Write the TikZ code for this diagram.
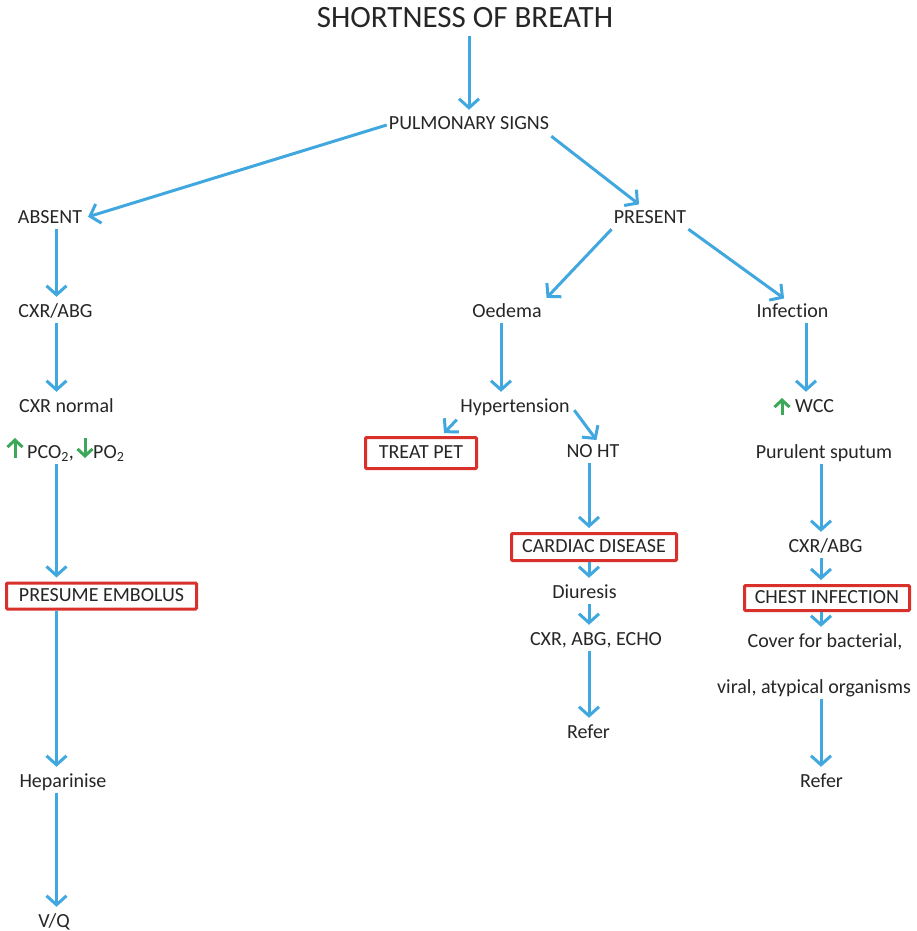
\documentclass[tikz,border=0pt]{standalone}
\usepackage{fontspec}
\setmainfont{Carlito}[Ligatures=NoCommon]
\usepackage{xcolor}
\usepackage{tikz}
\usetikzlibrary{arrows.meta,positioning}
\definecolor{flowblue}{HTML}{41A8DF}
\definecolor{gasgreen}{HTML}{3DA85A}
\definecolor{boxred}{HTML}{D8312C}
\definecolor{inkgray}{HTML}{262626}
\tikzset{
  entry/.style={inner sep=2pt,text height=14pt,text depth=4pt,text=inkgray,
    font=\fontsize{20}{24}\selectfont},
  heading/.style={entry,font=\fontsize{31}{37}\selectfont,text height=21pt,text depth=6pt},
  decision/.style={entry,draw=boxred,line width=3pt,rounded corners=1pt,inner sep=0pt},
  flow/.style={
    every edge/.style={draw=flowblue,line width=3pt,
      -{Straight Barb[length=9pt,width=20pt]},shorten >=4pt}
  },
  gas/.style={draw=gasgreen,line width=3pt,-{Straight Barb[length=7pt,width=15pt]}}
}
\begin{document}
\begin{tikzpicture}[x=1pt,y=-1pt]
      \useasboundingbox[fill=white] (0,0) rectangle (917,931);

      % column lines for the straight drops
      \coordinate (colT) at (469,0);
      \coordinate (colA) at (56.5,0);
      \coordinate (colB) at (501,0);
      \coordinate (colC) at (589,0);
      \coordinate (colD) at (806,0);
      \coordinate (colE) at (821,0);

      \node[heading] (sob) at (465,20) {SHORTNESS OF BREATH};
      \node[entry] (pulm) at (469,125) {PULMONARY SIGNS};
      \node[entry] (absent) at (50,218) {ABSENT};
      \node[entry] (present) at (650,218) {PRESENT};

      % absent branch
      \node[entry] (cxrabg) at (55.5,312) {CXR/ABG};
      \node[entry] (cxrnorm) at (66.5,407) {CXR normal};
      \node[entry,anchor=west] (pco) at (25,453) {PCO\textsubscript{2},};
      \node[entry,anchor=west] (po) at (91,453) {PO\textsubscript{2}};
      \node[decision,minimum width=190,minimum height=26] (embolus) at (101.5,596) {PRESUME EMBOLUS};
      \node[entry] (hepar) at (63,782) {Heparinise};
      \node[entry] (vq) at (54,922) {V/Q};

      % oedema branch
      \node[entry] (oedema) at (507,312) {Oedema};
      \node[entry] (hyper) at (515,407) {Hypertension};
      \node[decision,minimum width=111,minimum height=31] (treat) at (421,453) {TREAT PET};
      \node[entry] (noht) at (593,452) {NO HT};
      \node[decision,minimum width=165,minimum height=27] (cardiac) at (594,547) {CARDIAC DISEASE};
      \node[entry] (diuresis) at (584.5,593) {Diuresis};
      \node[entry] (echo) at (596,640) {CXR, ABG, ECHO};
      \node[entry] (referB) at (588.5,733) {Refer};

      % infection branch
      \node[entry] (infection) at (792.5,312) {Infection};
      \node[entry,anchor=west] (wcc) at (793,407) {WCC};
      \node[entry] (sputum) at (824,453) {Purulent sputum};
      \node[entry] (cxrabgB) at (825.5,547) {CXR/ABG};
      \node[decision,minimum width=165,minimum height=25] (chest) at (827,598) {CHEST INFECTION};
      \node[entry] (coverA) at (825,642) {Cover for bacterial,};
      \node[entry] (coverB) at (814,688) {viral, atypical organisms};
      \node[entry] (referC) at (821.5,782) {Refer};

      % rising and falling gas markers
      \draw[gas] (pco.west) ++(-10,5) -- ++(0,-20);
      \draw[gas] (po.west) ++(-6,-15) -- ++(0,20);
      \draw[gas] (wcc.west) ++(-11,8) -- ++(0,-17);

      \path[flow]
      (sob.south -| colT) edge (pulm.north -| colT)
      (pulm.west) edge (absent.east)
      (pulm.south east) edge (present.125)
      (present.south west) edge (oedema.north east)
      (present.south east) edge (infection.115)
      (absent.south -| colA) edge (cxrabg.north -| colA)
      (cxrabg.south -| colA) edge (cxrnorm.north -| colA)
      (pco.south -| colA) edge (embolus.north -| colA)
      (embolus.south -| colA) edge (hepar.north -| colA)
      (hepar.south -| colA) edge (vq.north -| colA)
      (oedema.south -| colB) edge (hyper.north -| colB)
      (hyper.south west) edge[shorten <=2pt] (treat.40)
      (hyper.east) edge[shorten <=4pt,shorten >=1pt] (noht.70)
      (noht.south -| colC) edge (cardiac.north -| colC)
      (cardiac.south -| colC) edge (diuresis.north -| colC)
      (diuresis.south -| colC) edge (echo.north -| colC)
      (echo.south -| colC) edge (referB.north -| colC)
      (infection.south -| colD) edge (wcc.north -| colD)
      (sputum.south -| colE) edge (cxrabgB.north -| colE)
      (cxrabgB.south -| colE) edge (chest.north -| colE)
      (chest.south -| colE) edge (coverA.north -| colE)
      (coverB.south -| colE) edge (referC.north -| colE)
      ;
    \end{tikzpicture}
\end{document}
